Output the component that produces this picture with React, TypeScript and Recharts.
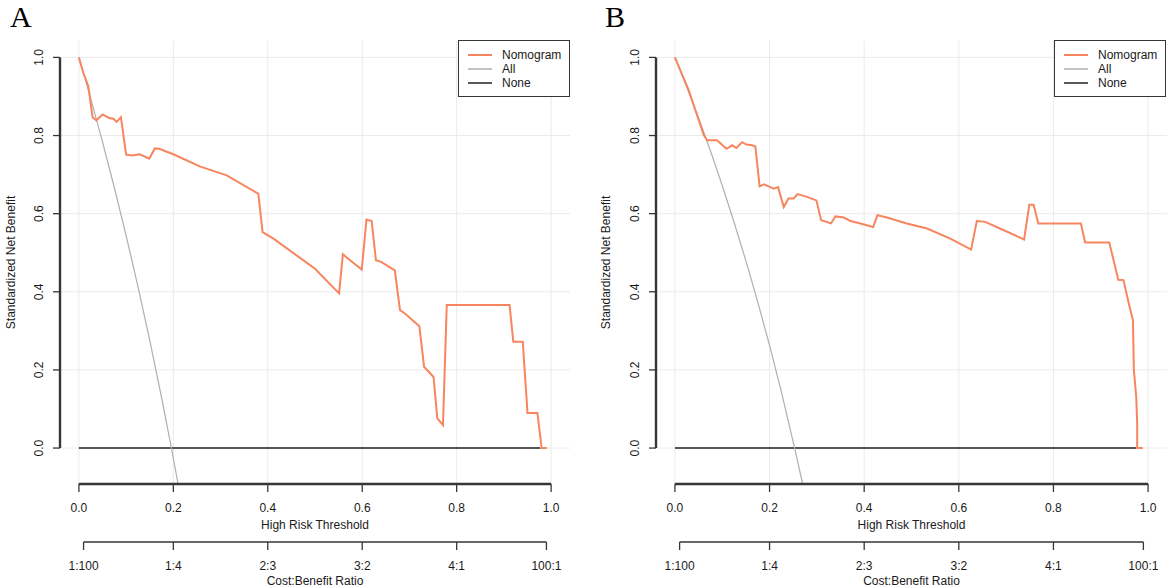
import {
	CartesianGrid,
	Label,
	Legend,
	Line,
	LineChart,
	XAxis,
	YAxis,
} from "recharts";

// threshold / standardized net benefit
const X_TICKS = [0, 0.2, 0.4, 0.6, 0.8, 1];
const Y_TICKS = [0, 0.2, 0.4, 0.6, 0.8, 1];
const CB_TICKS = [0.0099, 0.2, 0.4, 0.6, 0.8, 0.9901];
const CB_LABELS = ["1:100", "1:4", "2:3", "3:2", "4:1", "100:1"];

const NOMOGRAM_A: [number, number][] = [
	[0, 1.0], [0.009, 0.962], [0.02, 0.926], [0.029, 0.847], [0.037, 0.839],
	[0.05, 0.854], [0.064, 0.845], [0.073, 0.843], [0.08, 0.835], [0.089, 0.847],
	[0.1, 0.751], [0.112, 0.749], [0.129, 0.752], [0.149, 0.741], [0.161, 0.767],
	[0.17, 0.766], [0.2, 0.752], [0.256, 0.721], [0.313, 0.698], [0.38, 0.651],
	[0.389, 0.553], [0.412, 0.536], [0.475, 0.481], [0.5, 0.459], [0.551, 0.396],
	[0.559, 0.496], [0.567, 0.488], [0.599, 0.457], [0.609, 0.585], [0.62, 0.581],
	[0.629, 0.481], [0.641, 0.476], [0.669, 0.455], [0.68, 0.353], [0.691, 0.344],
	[0.721, 0.312], [0.731, 0.208], [0.751, 0.182], [0.759, 0.076], [0.771, 0.059],
	[0.779, 0.366], [0.912, 0.366], [0.92, 0.272], [0.94, 0.272], [0.95, 0.09],
	[0.971, 0.09], [0.98, 0.0], [0.991, 0.0],
];
const ALL_A: [number, number][] = [
	[0, 1.0], [0.025, 0.895], [0.05, 0.784], [0.075, 0.667], [0.1, 0.544],
	[0.125, 0.414], [0.15, 0.276], [0.175, 0.13], [0.196, 0.0], [0.21, -0.092],
];
const NONE_A: [number, number][] = [[0, 0], [0.977, 0]];

const NOMOGRAM_B: [number, number][] = [
	[0, 1.0], [0.029, 0.916], [0.061, 0.801], [0.068, 0.788], [0.089, 0.788],
	[0.109, 0.766], [0.121, 0.775], [0.13, 0.768], [0.142, 0.783], [0.151, 0.777],
	[0.163, 0.775], [0.17, 0.772], [0.179, 0.67], [0.188, 0.675], [0.209, 0.664],
	[0.218, 0.668], [0.23, 0.617], [0.24, 0.639], [0.251, 0.639], [0.259, 0.65],
	[0.279, 0.643], [0.299, 0.634], [0.309, 0.583], [0.33, 0.575], [0.339, 0.593],
	[0.357, 0.59], [0.371, 0.581], [0.392, 0.575], [0.419, 0.566], [0.428, 0.596],
	[0.448, 0.59], [0.49, 0.575], [0.533, 0.562], [0.582, 0.536], [0.626, 0.508],
	[0.638, 0.581], [0.656, 0.579], [0.687, 0.562], [0.738, 0.534], [0.749, 0.623],
	[0.758, 0.623], [0.768, 0.575], [0.858, 0.575], [0.867, 0.526], [0.918, 0.526],
	[0.937, 0.431], [0.948, 0.43], [0.961, 0.361], [0.968, 0.327], [0.97, 0.199],
	[0.975, 0.131], [0.977, 0.063], [0.977, 0.0], [0.989, 0.0],
];
const ALL_B: [number, number][] = [
	[0, 1.0], [0.025, 0.924], [0.05, 0.845], [0.075, 0.761], [0.1, 0.672],
	[0.125, 0.578], [0.15, 0.479], [0.175, 0.374], [0.2, 0.263], [0.225, 0.144],
	[0.253, 0.0], [0.27, -0.092],
];
const NONE_B: [number, number][] = [[0, 0], [0.975, 0]];

const NOMO_COLOR = "#F7855F";
const ALL_COLOR = "#AFAFAF";
const NONE_COLOR = "#222222";
const AXIS_COLOR = "#363636";
const GRID_COLOR = "#EBEBEB";
const TEXT_COLOR = "#1a1a1a";
const FONT = "'Liberation Sans', Arial, sans-serif";

const LEGEND_ITEMS = [
	{ name: "Nomogram", color: NOMO_COLOR, width: 2 },
	{ name: "All", color: ALL_COLOR, width: 1.5 },
	{ name: "None", color: NONE_COLOR, width: 1.5 },
];

const X_DOMAIN = [-0.04, 1.04];
const Y_DOMAIN = [-0.092, 1.042];
const CHART_W = 585;
const CHART_H = 588;
const TOP = 41;
const X_AXIS_H = 58;
const CB_AXIS_H = 46;

const toPoints = (pairs: [number, number][]) =>
	pairs.map(([t, nb]) => ({ t, nb }));

// R draws its axis lines only between the first and last tick,
// so the library's axis line is dashed down to that stretch
function partialLine(from: number, to: number, dom: number[], len: number) {
	const span = dom[1] - dom[0];
	const lead = ((from - dom[0]) / span) * len;
	const dash = ((to - from) / span) * len;
	return `0 ${lead} ${dash} ${len * 2}`;
}

function YTick(props: any) {
	const { x, y, payload } = props;
	return (
		<text
			x={x}
			y={y}
			transform={`rotate(-90 ${x} ${y})`}
			textAnchor="middle"
			fontSize={12}
			fontFamily={FONT}
			fill={TEXT_COLOR}
		>
			{Number(payload.value).toFixed(1)}
		</text>
	);
}

function LegendBox() {
	return (
		<div
			style={{
				position: "relative",
				width: 110,
				height: 55,
				border: `1px solid ${AXIS_COLOR}`,
				background: "#fff",
				fontFamily: FONT,
				fontSize: 12,
				color: TEXT_COLOR,
			}}
		>
			{LEGEND_ITEMS.map((item, i) => (
				<div
					key={item.name}
					style={{
						position: "absolute",
						left: 0,
						top: 7 + i * 14,
						height: 14,
						lineHeight: "14px",
						whiteSpace: "nowrap",
					}}
				>
					<svg
						width={24}
						height={14}
						style={{ position: "absolute", left: 9, top: 0 }}
					>
						<line
							x1={0}
							x2={24}
							y1={7}
							y2={7}
							stroke={item.color}
							strokeWidth={item.width}
						/>
					</svg>
					<span style={{ position: "absolute", left: 43, top: 0 }}>
						{item.name}
					</span>
				</div>
			))}
		</div>
	);
}

type PanelProps = {
	letter: string;
	nomogram: [number, number][];
	all: [number, number][];
	none: [number, number][];
	yAxisWidth: number;
	rightMargin: number;
	legendLeft: number;
	yTitleX: number;
};

function Panel({
	letter,
	nomogram,
	all,
	none,
	yAxisWidth,
	rightMargin,
	legendLeft,
	yTitleX,
}: PanelProps) {
	const plotW = CHART_W - yAxisWidth - rightMargin;
	const plotH = CHART_H - TOP - X_AXIS_H - CB_AXIS_H;
	const axisStyle = { stroke: AXIS_COLOR, strokeWidth: 1.3 };
	// the edge axis lines lose half their width to the plot edge
	const edgeStyle = { stroke: AXIS_COLOR, strokeWidth: 2.4 };

	return (
		<div style={{ position: "relative", width: CHART_W, height: CHART_H }}>
			<div
				style={{
					position: "absolute",
					left: letter === "A" ? 10 : 20,
					top: 2,
					fontFamily: "'Liberation Serif', 'Times New Roman', serif",
					fontSize: 30,
					lineHeight: "30px",
					color: "#000",
				}}
			>
				{letter}
			</div>
			<LineChart
				width={CHART_W}
				height={CHART_H}
				margin={{ top: TOP, right: rightMargin, bottom: 0, left: 0 }}
			>
				<CartesianGrid
					xAxisId={0}
					stroke={GRID_COLOR}
					strokeWidth={1}
					syncWithTicks
				/>
				<XAxis
					xAxisId={0}
					type="number"
					dataKey="t"
					domain={X_DOMAIN}
					ticks={X_TICKS}
					interval={0}
					tickFormatter={(v: number) => v.toFixed(1)}
					axisLine={{
						...edgeStyle,
						strokeDasharray: partialLine(0, 1, X_DOMAIN, plotW),
					}}
					tickLine={axisStyle}
					tickSize={8}
					tickMargin={11}
					height={X_AXIS_H}
					tick={{ fontSize: 12, fill: TEXT_COLOR, fontFamily: FONT }}
				>
					<Label
						value="High Risk Threshold"
						position="insideTop"
						offset={36}
						fontSize={12}
						fill={TEXT_COLOR}
						fontFamily={FONT}
					/>
				</XAxis>
				<XAxis
					xAxisId={1}
					type="number"
					dataKey="t"
					domain={X_DOMAIN}
					ticks={CB_TICKS}
					interval={0}
					tickFormatter={(v: number) => CB_LABELS[CB_TICKS.indexOf(v)]}
					axisLine={{
						...axisStyle,
						strokeDasharray: partialLine(
							CB_TICKS[0],
							CB_TICKS[CB_TICKS.length - 1],
							X_DOMAIN,
							plotW,
						),
					}}
					tickLine={axisStyle}
					tickSize={8}
					tickMargin={11}
					height={CB_AXIS_H}
					tick={{ fontSize: 12, fill: TEXT_COLOR, fontFamily: FONT }}
				>
					<Label
						value="Cost:Benefit Ratio"
						position="insideTop"
						offset={34}
						fontSize={12}
						fill={TEXT_COLOR}
						fontFamily={FONT}
					/>
				</XAxis>
				<YAxis
					type="number"
					domain={Y_DOMAIN}
					ticks={Y_TICKS}
					interval={0}
					axisLine={{
						...edgeStyle,
						strokeDasharray: partialLine(
							Y_DOMAIN[1] - 1,
							Y_DOMAIN[1],
							[0, Y_DOMAIN[1] - Y_DOMAIN[0]],
							plotH,
						),
					}}
					tickLine={axisStyle}
					tickSize={7}
					tickMargin={9.5}
					width={yAxisWidth}
					tick={(p: any) => <YTick {...p} />}
				>
					<Label
						content={(p: any) => {
							const vb = p.viewBox || {};
							const cy = (vb.y ?? TOP) + (vb.height ?? plotH) / 2;
							return (
								<text
									x={yTitleX}
									y={cy}
									transform={`rotate(-90 ${yTitleX} ${cy})`}
									textAnchor="middle"
									fontSize={12}
									fontFamily={FONT}
									fill={TEXT_COLOR}
								>
									Standardized Net Benefit
								</text>
							);
						}}
					/>
				</YAxis>
				<Line
					xAxisId={1}
					data={toPoints(none)}
					dataKey="nb"
					type="linear"
					stroke={NONE_COLOR}
					strokeWidth={1.5}
					dot={false}
					isAnimationActive={false}
				/>
				<Line
					xAxisId={0}
					data={toPoints(all)}
					dataKey="nb"
					type="linear"
					stroke={ALL_COLOR}
					strokeWidth={1.2}
					dot={false}
					isAnimationActive={false}
				/>
				<Line
					xAxisId={0}
					data={toPoints(nomogram)}
					dataKey="nb"
					type="linear"
					stroke={NOMO_COLOR}
					strokeWidth={2}
					dot={false}
					isAnimationActive={false}
				/>
				<Legend
					layout="vertical"
					align="center"
					verticalAlign="middle"
					wrapperStyle={{ left: legendLeft, top: 40, width: 112, height: 57 }}
					content={() => <LegendBox />}
				/>
			</LineChart>
		</div>
	);
}

export default function App() {
	return (
		<div
			style={{
				display: "flex",
				width: 1170,
				height: 588,
				background: "#fff",
				fontFamily: FONT,
			}}
		>
			<style>{"body{margin:0}"}</style>
			<Panel
				letter="A"
				nomogram={NOMOGRAM_A}
				all={ALL_A}
				none={NONE_A}
				yAxisWidth={60}
				rightMargin={15}
				legendLeft={458}
				yTitleX={15}
			/>
			<Panel
				letter="B"
				nomogram={NOMOGRAM_B}
				all={ALL_B}
				none={NONE_B}
				yAxisWidth={71}
				rightMargin={3}
				legendLeft={469}
				yTitleX={25}
			/>
		</div>
	);
}
